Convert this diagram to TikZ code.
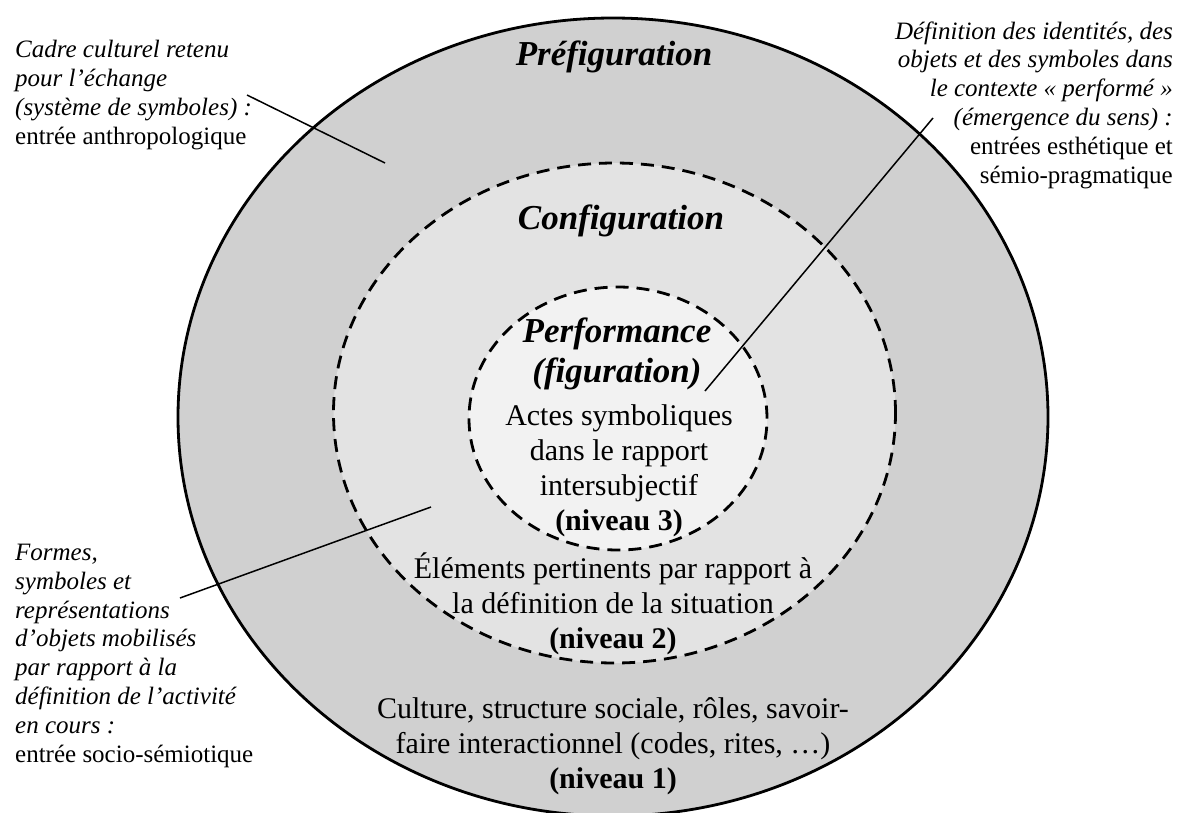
\documentclass[tikz,border=0pt]{standalone}
\usepackage{fontspec}
\setmainfont{Liberation Serif}
\definecolor{outergray}{HTML}{D0D0D0}
\definecolor{midgray}{HTML}{E3E3E3}
\definecolor{innergray}{HTML}{F2F2F2}
\begin{document}
\begin{tikzpicture}[x=1pt,y=-1pt,
  ring/.style={line width=2.8pt},
  dashring/.style={line width=2.8pt, dash pattern=on 13pt off 8pt},
  leader/.style={line width=1.5pt},
  title/.style={font=\fontsize{35}{40}\selectfont\bfseries\itshape, align=center, inner sep=0pt},
  body/.style={font=\fontsize{30}{35}\selectfont, align=center, inner sep=0pt},
  note/.style={font=\fontsize{25}{28.8}\selectfont, inner sep=0pt}]
\useasboundingbox (0,0) rectangle (1179,812);
% rings
\draw[ring, fill=outergray] (613,417) ellipse [x radius=435pt, y radius=399pt];
\draw[dashring, fill=midgray] (614.5,413) ellipse [x radius=281pt, y radius=250pt];
\draw[dashring, fill=innergray] (618,418.5) ellipse [x radius=149pt, y radius=131.5pt];
% titles and texts (anchor = baseline of last line)
\node[title, anchor=base] (pref) at (614,65) {Préfiguration};
\node[title, anchor=base] (conf) at (621,229) {Configuration};
\node[title, anchor=base] (perf) at (617,382) {Performance\\(figuration)};
\node[body, anchor=base] (n3) at (619,530) {Actes symboliques\\dans le rapport\\intersubjectif\\\textbf{(niveau 3)}};
\node[body, anchor=base] (n2) at (613,648) {Éléments pertinents par rapport à\\la définition de la situation\\\textbf{(niveau 2)}};
\node[body, anchor=base] (n1) at (613,788) {Culture, structure sociale, rôles, savoir-\\faire interactionnel (codes, rites, …)\\\textbf{(niveau 1)}};
% annotations
\node[note, anchor=base west, align=left] (anthro) at (15,144)
  {\textit{Cadre culturel retenu}\\\textit{pour l’échange}\\\textit{(système de symboles) :}\\entrée anthropologique};
\node[note, anchor=base east, align=right] (esth) at (1173,183)
  {\textit{Définition des identités, des}\\\textit{objets et des symboles dans}\\\textit{le contexte «~performé~»}\\\textit{(émergence du sens) :}\\entrées esthétique et\\sémio-pragmatique};
\node[note, anchor=base west, align=left] (socio) at (15,762)
  {\textit{Formes,}\\\textit{symboles et}\\\textit{représentations}\\\textit{d’objets mobilisés}\\\textit{par rapport à la}\\\textit{définition de l’activité}\\\textit{en cours :}\\entrée socio-sémiotique};
% leader lines
\coordinate (a1) at (247,95);
\coordinate (a2) at (385,163);
\coordinate (b1) at (933,118);
\coordinate (b2) at (705,391);
\coordinate (c1) at (180,598);
\coordinate (c2) at (431,507);
\draw[leader] (a1) -- (a2);
\draw[leader] (b1) -- (b2);
\draw[leader] (c1) -- (c2);
\end{tikzpicture}
\end{document}
